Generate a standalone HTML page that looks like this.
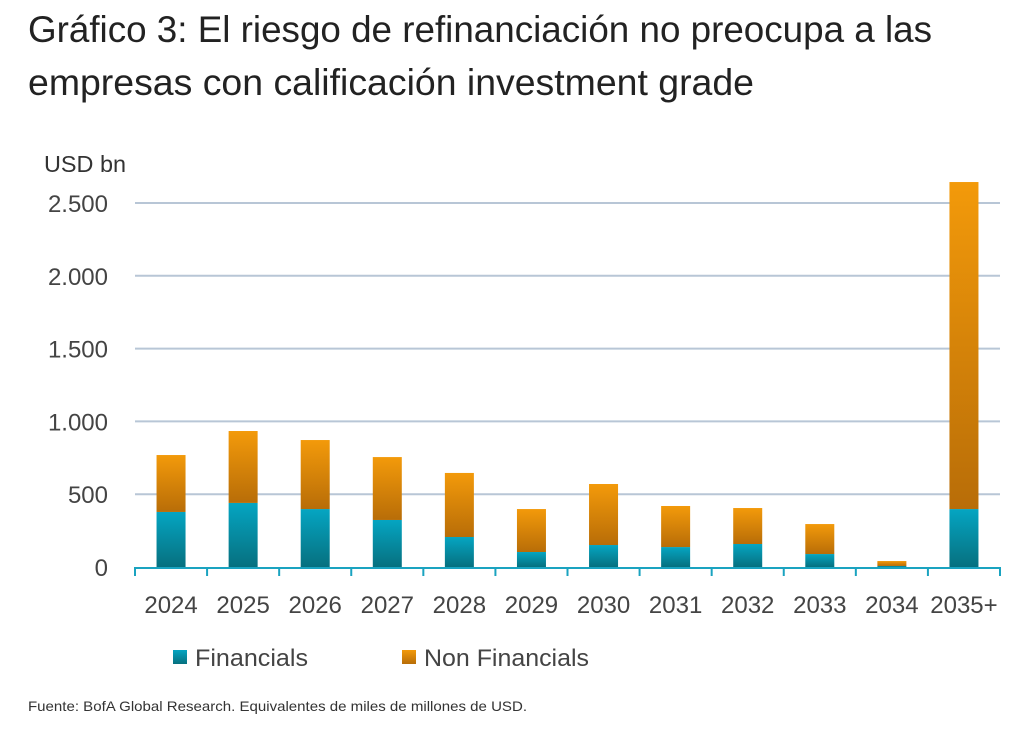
<!DOCTYPE html>
<html><head><meta charset="utf-8"><style>
body{margin:0;background:#fff;}
svg{display:block;font-family:"Liberation Sans Narrow","Liberation Sans",sans-serif;}
</style></head><body>
<svg id="chart" width="1028" height="735" viewBox="0 0 1028 735">
<defs>
<linearGradient id="gOr" x1="0" y1="0" x2="0" y2="1"><stop offset="0" stop-color="#f39a0a"/><stop offset="1" stop-color="#b86d08"/></linearGradient>
<linearGradient id="gTe" x1="0" y1="0" x2="0" y2="1"><stop offset="0" stop-color="#05a5c2"/><stop offset="1" stop-color="#06707f"/></linearGradient>
</defs>
<text x="28" y="42" font-size="37" fill="#222" textLength="904" lengthAdjust="spacingAndGlyphs">Gráfico 3: El riesgo de refinanciación no preocupa a las</text>
<text x="28" y="95" font-size="37" fill="#222" textLength="726" lengthAdjust="spacingAndGlyphs">empresas con calificación investment grade</text>
<text x="44" y="172" font-size="23" fill="#333" textLength="82" lengthAdjust="spacingAndGlyphs">USD bn</text>
<g id="grid"></g><g id="bars"></g><g id="axis"></g>
<g>
<rect x="173" y="650" width="14" height="14" fill="url(#gTe)"/>
<text x="195" y="666" font-size="24" fill="#444" textLength="113" lengthAdjust="spacingAndGlyphs">Financials</text>
<rect x="402" y="650" width="14" height="14" fill="url(#gOr)"/>
<text x="424" y="666" font-size="24" fill="#444" textLength="165" lengthAdjust="spacingAndGlyphs">Non Financials</text>
</g>
<text x="28" y="711" font-size="14" fill="#333" font-family="Liberation Sans, sans-serif" textLength="499" lengthAdjust="spacingAndGlyphs">Fuente: BofA Global Research. Equivalentes de miles de millones de USD.</text>
</svg>
<script>
const categories=["2024","2025","2026","2027","2028","2029","2030","2031","2032","2033","2034","2035+"];
const financials=[378,440,398,323,206,103,151,137,158,89,7,398];
const nonFinancials=[391,494,474,432,440,295,419,282,247,206,34,2246];
const yTicks=[0,500,1000,1500,2000,2500];
const yTickLabels=["0","500","1.000","1.500","2.000","2.500"];
const NS="http://www.w3.org/2000/svg";
const x0=135,x1=1000,yBase=567,pxPer=364/2500;
const bw=(x1-x0)/categories.length, barW=29;
const y=v=>yBase-v*pxPer;
const xc=i=>x0+bw*(i+0.5);
function mk(tag,attrs,parent){const e=document.createElementNS(NS,tag);for(const k in attrs)e.setAttribute(k,attrs[k]);document.getElementById(parent).appendChild(e);return e;}
yTicks.forEach((t,i)=>{
 if(t>0){const l=mk('line',{x1:x0,x2:x1,y1:y(t),y2:y(t),stroke:'#b8c6d6','stroke-width':2},'grid');
 
 }
 const tx=mk('text',{x:108,y:y(t)+9,'text-anchor':'end','font-size':24,fill:'#444'},'grid');
 tx.textContent=yTickLabels[i];
 
 
});
categories.forEach((c,i)=>{
 const f=financials[i],n=nonFinancials[i];
 const r1=mk('rect',{x:xc(i)-barW/2,y:y(f),width:barW,height:f*pxPer,fill:'url(#gTe)'},'bars');
 
 
 const r2=mk('rect',{x:xc(i)-barW/2,y:y(f+n),width:barW,height:n*pxPer,fill:'url(#gOr)'},'bars');
 
 
 const tx=mk('text',{x:xc(i),y:613,'text-anchor':'middle','font-size':24,fill:'#444'},'axis');
 tx.textContent=c;
 
 
});
const ax=mk('line',{x1:x0,x2:x1,y1:yBase+1,y2:yBase+1,stroke:'#1aa3c0','stroke-width':2},'axis');


for(let i=0;i<=categories.length;i++){
 const tk=mk('line',{x1:x0+bw*i,x2:x0+bw*i,y1:yBase,y2:yBase+9,stroke:'#1aa3c0','stroke-width':2},'axis');
 
 
}
</script>
</body></html>
